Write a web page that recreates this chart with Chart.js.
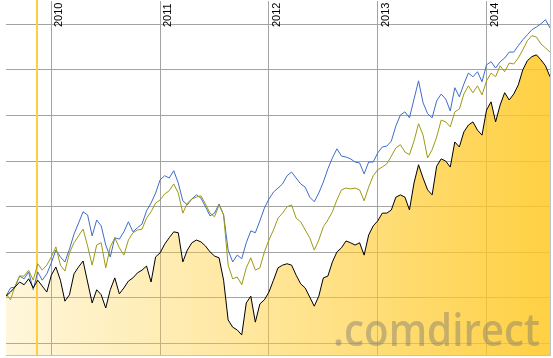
<!DOCTYPE html>
<html><head><meta charset="utf-8">
<script src="https://cdn.jsdelivr.net/npm/chart.js@4"></script>
<style>html,body{margin:0;padding:0;background:#fff;overflow:hidden}#wrap{width:553px;height:358px;position:relative}</style>
</head><body><div id="wrap"><canvas id="c" width="553" height="358"></canvas></div>
<script>
// semi-monthly sample dates (fractional years) from Aug 2009 to Aug 2014
const startDate = 2009 + 7/12;
const dates = [];
for (let k = 0; k <= 120; k++) dates.push(+(startDate + k/24).toFixed(4));

const yearTicks = [2010, 2011, 2012, 2013, 2014];
const valueTicks = [-10, 0, 10, 20, 30, 40, 50, 60];
const markerDate = 2009.87;
const watermark = '.comdirect';

const blackValues = [
 0.4,1.3,2.4,3.5,2.9,4.2,2.2,3.9,2.6,1.3,
 5.0,6.8,3.9,-0.7,0.7,5.3,6.8,8.1,3.5,-1.1,
 1.8,0.7,-2.2,1.8,4.4,0.9,2.2,3.7,4.4,5.5,
 6.1,7.0,3.5,9.0,9.9,11.8,13.2,14.5,14.3,7.9,
 10.5,12.1,12.7,12.3,11.4,10.1,9.2,8.8,3.9,-4.8,
 -6.4,-7.0,-8.1,-1.1,0.4,-5.3,-1.3,-0.4,1.3,3.9,
 6.6,7.2,7.5,7.2,5.0,3.1,2.2,0.2,-1.8,0.4,
 4.4,4.8,7.9,10.1,11.0,12.5,12.1,11.6,12.1,9.4,
 13.8,15.8,16.9,18.6,18.6,19.3,22.1,22.6,22.1,19.3,
 25.2,29.2,26.3,23.7,22.6,28.9,30.5,30.0,28.7,34.2,
 33.1,36.4,37.9,38.6,36.8,35.7,41.2,43.0,38.6,42.3,
 45.0,43.4,44.7,46.7,50.0,52.0,52.9,53.3,52.2,50.9,
 48.5];
const blueValues = [
 0.4,2.2,2.4,4.8,4.2,5.7,1.8,5.7,3.9,5.3,
 7.7,10.5,9.0,7.9,10.7,14.0,16.4,18.9,18.2,13.6,
 17.1,15.8,11.6,9.0,13.2,12.9,14.5,16.7,14.5,15.4,
 16.2,19.1,20.8,23.0,25.9,26.8,26.3,27.9,25.2,21.3,
 20.4,21.7,22.6,21.9,20.0,18.0,18.6,20.6,18.2,10.5,
 7.9,9.4,8.6,12.1,14.7,14.3,16.9,19.7,21.7,23.2,
 24.1,25.0,26.8,27.6,26.3,25.0,24.3,22.1,21.1,23.0,
 25.4,28.3,30.7,32.7,31.1,30.9,30.5,29.8,29.6,27.2,
 29.8,29.8,31.8,33.1,33.3,34.4,37.7,40.1,40.8,39.5,
 43.6,47.6,42.8,40.4,39.5,43.2,44.7,43.6,41.0,46.1,
 44.1,46.9,49.3,48.5,49.6,47.4,51.1,51.8,50.4,51.8,
 52.6,53.9,53.9,55.3,56.6,57.7,58.8,59.4,60.1,61.0,
 59.2];
const oliveValues = [
 0.9,-0.4,2.6,4.8,4.8,6.1,3.9,7.5,6.1,7.2,
 9.0,11.2,7.2,5.9,9.9,12.1,13.6,15.1,11.4,7.2,
 11.6,12.1,6.6,11.2,13.2,11.0,9.4,12.7,14.3,14.9,
 15.1,17.5,18.9,20.8,21.5,22.8,23.5,25.0,23.0,18.6,
 20.8,21.7,22.1,22.4,20.6,18.6,17.8,20.4,18.2,7.2,
 4.2,4.6,2.9,6.6,8.8,6.1,6.6,10.1,12.7,14.9,
 17.5,18.6,20.0,20.4,17.5,16.7,14.9,13.2,10.5,12.7,
 15.6,17.1,18.9,21.5,23.7,24.1,23.9,24.1,23.7,21.3,
 24.3,26.8,28.1,28.7,29.4,31.1,32.9,33.6,32.0,31.4,
 34.4,38.2,35.7,30.7,32.5,35.3,39.0,38.6,37.5,40.8,
 41.4,44.7,46.5,45.0,46.5,44.5,47.6,49.3,48.5,50.9,
 49.6,51.5,51.3,52.6,54.4,56.4,57.5,57.2,55.7,54.8,
 53.9];

const pts = vals => vals.map((v, i) => ({x: dates[i], y: v}));

function fillGradient(context) {
  const chart = context.chart;
  const a = chart.chartArea;
  if (!a) return 'rgba(255,205,45,0.4)';
  const g = chart.ctx.createLinearGradient(a.left, 0, a.right, 0);
  g.addColorStop(0, 'rgba(255,205,50,0.17)');
  g.addColorStop(0.5, 'rgba(255,203,45,0.5)');
  g.addColorStop(1, 'rgba(255,200,35,0.86)');
  return g;
}

const deco = {
  id: 'deco',
  beforeDatasetsDraw(chart) {
    const {ctx, chartArea: a, scales: {x}} = chart;
    const px = Math.round(x.getPixelForValue(markerDate));
    ctx.save();
    ctx.strokeStyle = '#ffcf3a';
    ctx.lineWidth = 2;
    ctx.beginPath();
    ctx.moveTo(px, 0);
    ctx.lineTo(px, a.bottom);
    ctx.stroke();
    ctx.restore();
  },
  afterDatasetsDraw(chart) {
    const {ctx, chartArea: a, scales: {x}} = chart;
    ctx.save();
    // watermark
    ctx.font = '600 45px "Open Sans"';
    const w = ctx.measureText(watermark).width;
    ctx.fillStyle = 'rgba(110,110,110,0.40)';
    ctx.textBaseline = 'alphabetic';
    ctx.translate(333, 346);
    ctx.scale(207 / w, 1);
    ctx.fillText(watermark, 0, 0);
    ctx.restore();
    // year labels
    ctx.save();
    ctx.font = '11px "Liberation Sans", Arial';
    ctx.fillStyle = '#000';
    yearTicks.forEach(y => {
      const gx = Math.round(x.getPixelForValue(y));
      ctx.save();
      ctx.translate(gx + 2, 27);
      ctx.rotate(-Math.PI / 2);
      ctx.textAlign = 'left';
      ctx.textBaseline = 'top';
      ctx.fillText(String(y), 0, 0);
      ctx.restore();
    });
    ctx.restore();
    // frame
    ctx.save();
    ctx.strokeStyle = '#bcc5cd';
    ctx.lineWidth = 1;
    ctx.beginPath();
    ctx.moveTo(a.left, Math.round(a.bottom) + 0.5);
    ctx.lineTo(a.right + 0.5, Math.round(a.bottom) + 0.5);
    ctx.moveTo(Math.round(a.right) + 0.5, 0);
    ctx.lineTo(Math.round(a.right) + 0.5, a.bottom + 1);
    ctx.stroke();
    ctx.restore();
  }
};

new Chart(document.getElementById('c'), {
  type: 'line',
  data: {
    datasets: [
      {label: 'black', data: pts(blackValues), borderColor: '#000000', borderWidth: 1,
       fill: 'start', backgroundColor: fillGradient},
      {label: 'olive', data: pts(oliveValues), borderColor: '#9c9a12', borderWidth: 1, fill: false},
      {label: 'blue', data: pts(blueValues), borderColor: '#3d6cc9', borderWidth: 1, fill: false}
    ]
  },
  options: {
    responsive: false,
    devicePixelRatio: 1,
    animation: false,
    events: [],
    layout: {padding: {left: 6, right: 3, top: 1, bottom: 3}},
    elements: {point: {radius: 0}, line: {tension: 0}},
    plugins: {legend: {display: false}, tooltip: {enabled: false}},
    scales: {
      x: {
        type: 'linear', min: dates[0], max: dates[dates.length - 1],
        afterBuildTicks: s => { s.ticks = yearTicks.map(v => ({value: v})); },
        ticks: {display: false},
        grid: {color: '#a3a3a3', lineWidth: 1, drawTicks: false},
        border: {display: false}
      },
      y: {
        type: 'linear', min: -12.5, max: 65.1,
        afterBuildTicks: s => { s.ticks = valueTicks.map(v => ({value: v})); },
        ticks: {display: false},
        grid: {color: '#a3a3a3', lineWidth: 1, drawTicks: false},
        border: {display: false}
      }
    }
  },
  plugins: [deco]
});
</script>
</body></html>
